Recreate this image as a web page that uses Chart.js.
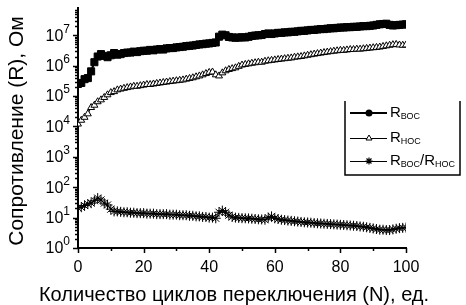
<!DOCTYPE html>
<html>
<head>
<meta charset="utf-8">
<script src="https://cdn.jsdelivr.net/npm/chart.js@4.4.1/dist/chart.umd.min.js"></script>
<style>
  body { margin: 0; background: #fff; }
</style>
</head>
<body>
<canvas id="resChart" width="466" height="305"></canvas>
<script>
// switching cycle number
const cycles = [0, 1, 2, 3, 4, 5, 6, 7, 8, 9, 10, 11, 12, 13, 14, 15, 16, 17, 18, 19,
  20, 21, 22, 23, 24, 25, 26, 27, 28, 29, 30, 31, 32, 33, 34, 35, 36, 37, 38, 39,
  40, 41, 42, 43, 44, 45, 46, 47, 48, 49, 50, 51, 52, 53, 54, 55, 56, 57, 58, 59,
  60, 61, 62, 63, 64, 65, 66, 67, 68, 69, 70, 71, 72, 73, 74, 75, 76, 77, 78, 79,
  80, 81, 82, 83, 84, 85, 86, 87, 88, 89, 90, 91, 92, 93, 94, 95, 96, 97, 98, 99, 100];

// R_ВОС, Ohm
const rHigh = [2.5e5, 2.7e5, 3.6e5, 3.9e5, 6.5e5, 1.3e6, 2.0e6, 2.4e6, 2.1e6, 1.9e6,
  2.2e6, 2.6e6, 2.3e6, 2.4e6, 2.6e6, 2.7e6, 2.7e6, 2.9e6, 2.8e6, 3.0e6,
  3.1e6, 3.1e6, 3.3e6, 3.2e6, 3.4e6, 3.5e6, 3.4e6, 3.7e6, 3.8e6, 3.8e6,
  4.0e6, 4.1e6, 4.2e6, 4.4e6, 4.5e6, 4.6e6, 4.8e6, 5.0e6, 5.1e6, 5.3e6,
  5.4e6, 5.6e6, 5.8e6, 9.0e6, 1.05e7, 1.0e7, 8.8e6, 8.5e6, 8.3e6, 8.4e6,
  8.6e6, 8.5e6, 8.9e6, 9.5e6, 9.8e6, 1.0e7, 1.02e7, 1.1e7, 1.15e7, 1.1e7,
  1.15e7, 1.2e7, 1.2e7, 1.25e7, 1.25e7, 1.3e7, 1.3e7, 1.35e7, 1.4e7, 1.4e7,
  1.45e7, 1.5e7, 1.5e7, 1.55e7, 1.6e7, 1.6e7, 1.65e7, 1.7e7, 1.7e7, 1.75e7,
  1.8e7, 1.8e7, 1.85e7, 1.85e7, 1.9e7, 1.9e7, 1.95e7, 2.0e7, 2.0e7, 2.05e7,
  2.1e7, 2.2e7, 2.3e7, 2.35e7, 2.4e7, 2.2e7, 2.1e7, 2.15e7, 2.2e7, 2.25e7, 2.3e7];

// R_НОС, Ohm
const rLow = [1.2e4, 1.6e4, 2.0e4, 2.6e4, 4.2e4, 5.0e4, 6.5e4, 7.5e4, 9.0e4, 1.1e5,
  1.3e5, 1.4e5, 1.6e5, 1.7e5, 1.8e5, 1.9e5, 2.0e5, 2.1e5, 2.1e5, 2.2e5,
  2.3e5, 2.4e5, 2.4e5, 2.5e5, 2.6e5, 2.7e5, 2.8e5, 2.9e5, 3.0e5, 3.1e5,
  3.2e5, 3.3e5, 3.4e5, 3.6e5, 3.8e5, 4.0e5, 4.3e5, 4.6e5, 5.0e5, 5.5e5,
  6.0e5, 6.2e5, 5.0e5, 4.6e5, 5.8e5, 6.8e5, 7.5e5, 8.0e5, 8.5e5, 9.5e5,
  1.05e6, 1.1e6, 1.15e6, 1.2e6, 1.25e6, 1.3e6, 1.3e6, 1.4e6, 1.45e6, 1.5e6,
  1.55e6, 1.6e6, 1.65e6, 1.7e6, 1.75e6, 1.8e6, 1.9e6, 1.95e6, 2.0e6, 2.1e6,
  2.2e6, 2.3e6, 2.4e6, 2.5e6, 2.6e6, 2.7e6, 2.8e6, 2.9e6, 3.0e6, 3.1e6,
  3.2e6, 3.2e6, 3.3e6, 3.4e6, 3.4e6, 3.5e6, 3.5e6, 3.6e6, 3.7e6, 3.8e6,
  3.9e6, 4.0e6, 4.1e6, 4.3e6, 4.5e6, 4.7e6, 4.9e6, 5.0e6, 4.8e6, 4.7e6, 4.8e6];

// R_ВОС / R_НОС
const rRatio = [21, 22, 25, 28, 30, 36, 44, 38, 30, 26,
  19, 16, 16, 15.5, 15, 15, 14.5, 14.5, 14, 14,
  14, 13.5, 13.5, 13.5, 13, 13, 13, 13, 12.5, 12.5,
  12.5, 12, 12, 12, 11.5, 11.5, 11, 11, 10.5, 10.5,
  10, 10, 9.5, 15, 17, 15, 12, 10.5, 10, 9.8,
  9.6, 9.5, 9.4, 9.2, 9, 8.8, 8.7, 8.5, 10, 11,
  9.5, 9, 8.5, 8.3, 8.0, 7.8, 7.6, 7.4, 7.2, 7.0,
  6.9, 6.8, 6.6, 6.5, 6.4, 6.3, 6.2, 6.1, 6.0, 5.9,
  5.8, 5.7, 5.6, 5.5, 5.4, 5.3, 5.1, 5.0, 4.8, 4.6,
  4.4, 4.2, 4.0, 4.0, 3.9, 3.9, 4.1, 4.3, 4.5, 4.6, 4.7];

const xTicks = [0, 20, 40, 60, 80, 100];
const yDecades = [0, 1, 2, 3, 4, 5, 6, 7];

const FONT = '"Liberation Sans", Arial, sans-serif';

function pts(ys) {
  return cycles.map((c, i) => ({ x: c, y: ys[i] }));
}

function drawSubText(ctx, x, y, main, sub) {
  ctx.font = '15px ' + FONT;
  ctx.fillText(main, x, y);
  x += ctx.measureText(main).width;
  ctx.font = '9px ' + FONT;
  ctx.fillText(sub, x, y + 4);
  return x + ctx.measureText(sub).width;
}

function drawStar(ctx, x, y, r) {
  ctx.beginPath();
  for (let k = 0; k < 4; k++) {
    const a = k * Math.PI / 4;
    ctx.moveTo(x - r * Math.cos(a), y - r * Math.sin(a));
    ctx.lineTo(x + r * Math.cos(a), y + r * Math.sin(a));
  }
  ctx.stroke();
}

const decor = {
  id: 'decor',
  afterDraw(chart) {
    const ctx = chart.ctx;
    const xs = chart.scales.x, ys = chart.scales.y;
    const area = chart.chartArea;
    ctx.save();
    ctx.fillStyle = '#000';
    ctx.strokeStyle = '#000';

    // x ticks
    ctx.lineWidth = 1.5;
    for (let v = 0; v <= 100; v += 10) {
      const px = Math.round(xs.getPixelForValue(v)) + 0.5;
      const len = v % 20 === 0 ? 5 : 3;
      ctx.beginPath();
      ctx.moveTo(px, area.bottom);
      ctx.lineTo(px, area.bottom + len);
      ctx.stroke();
    }
    ctx.font = '16px ' + FONT;
    ctx.textAlign = 'center';
    ctx.textBaseline = 'middle';
    xTicks.forEach(v => ctx.fillText(String(v), xs.getPixelForValue(v), area.bottom + 20));

    // y ticks (log)
    yDecades.forEach(k => {
      for (let m = 1; m <= 9; m++) {
        const v = m * Math.pow(10, k);
        if (v > ys.max) break;
        const py = Math.round(ys.getPixelForValue(v)) + 0.5;
        const len = m === 1 ? 5 : 3;
        ctx.beginPath();
        ctx.moveTo(area.left, py);
        ctx.lineTo(area.left - len, py);
        ctx.stroke();
      }
    });
    yDecades.forEach(k => {
      const py = ys.getPixelForValue(Math.pow(10, k));
      ctx.font = '12px ' + FONT;
      ctx.textAlign = 'right';
      ctx.textBaseline = 'middle';
      const ew = ctx.measureText(String(k)).width;
      ctx.fillText(String(k), area.left - 8, py - 6);
      ctx.font = '16px ' + FONT;
      ctx.fillText('10', area.left - 8 - ew, py + 1);
    });

    // axis titles
    ctx.font = '20px ' + FONT;
    ctx.textAlign = 'center';
    ctx.textBaseline = 'middle';
    ctx.fillText('Количество циклов переключения (N), ед.', 234, 295);
    ctx.save();
    ctx.translate(17, 131);
    ctx.rotate(-Math.PI / 2);
    ctx.font = '21px ' + FONT;
    ctx.fillText('Сопротивление (R), Ом', 0, 0);
    ctx.restore();

    // legend
    const L = 345, R = 460, T = 101, B = 175;
    ctx.lineWidth = 1.5;
    ctx.beginPath();
    ctx.moveTo(L, T); ctx.lineTo(L, B); ctx.lineTo(R, B); ctx.lineTo(R, T);
    ctx.stroke();
    const rows = [113, 138, 161];
    const x0 = 350, x1 = 387, xm = 369;
    ctx.textAlign = 'left';
    ctx.textBaseline = 'middle';
    // row 1
    ctx.lineWidth = 2;
    ctx.beginPath(); ctx.moveTo(x0, rows[0]); ctx.lineTo(x1, rows[0]); ctx.stroke();
    ctx.beginPath(); ctx.arc(xm, rows[0], 3.5, 0, Math.PI * 2); ctx.fill();
    drawSubText(ctx, 390, rows[0], 'R', 'ВОС');
    // row 2
    ctx.lineWidth = 1;
    ctx.beginPath(); ctx.moveTo(x0, rows[1] + 0.5); ctx.lineTo(x1, rows[1] + 0.5); ctx.stroke();
    ctx.fillStyle = '#fff';
    ctx.beginPath();
    ctx.moveTo(xm, rows[1] - 3); ctx.lineTo(xm + 3, rows[1] + 2); ctx.lineTo(xm - 3, rows[1] + 2); ctx.closePath();
    ctx.fill(); ctx.stroke();
    ctx.fillStyle = '#000';
    drawSubText(ctx, 390, rows[1], 'R', 'НОС');
    // row 3
    ctx.beginPath(); ctx.moveTo(x0, rows[2] + 0.5); ctx.lineTo(x1, rows[2] + 0.5); ctx.stroke();
    ctx.lineWidth = 1.2;
    drawStar(ctx, xm, rows[2], 3.5);
    let nx = drawSubText(ctx, 390, rows[2], 'R', 'ВОС');
    ctx.font = '15px ' + FONT;
    ctx.fillText('/', nx, rows[2]);
    nx += ctx.measureText('/').width;
    drawSubText(ctx, nx, rows[2], 'R', 'НОС');

    ctx.restore();
  }
};

new Chart(document.getElementById('resChart').getContext('2d'), {
  type: 'line',
  data: {
    datasets: [
      {
        label: 'R_ВОС',
        data: pts(rHigh),
        borderColor: '#000',
        backgroundColor: '#000',
        borderWidth: 2,
        pointStyle: 'rect',
        pointRadius: 5,
        pointBorderWidth: 1,
        tension: 0
      },
      {
        label: 'R_НОС',
        data: pts(rLow),
        borderColor: '#000',
        backgroundColor: '#fff',
        borderWidth: 1,
        pointStyle: 'triangle',
        pointRadius: 4,
        pointBorderWidth: 1,
        tension: 0
      },
      {
        label: 'R_ВОС/R_НОС',
        data: pts(rRatio),
        borderColor: '#000',
        backgroundColor: '#000',
        borderWidth: 1,
        pointStyle: 'star',
        pointRadius: 5,
        pointBorderWidth: 1,
        tension: 0
      }
    ]
  },
  options: {
    responsive: false,
    animation: false,
    layout: { padding: { top: 8, right: 60, left: 0, bottom: 0 } },
    plugins: { legend: { display: false }, tooltip: { enabled: false } },
    scales: {
      x: {
        type: 'linear',
        min: 0,
        max: 100,
        ticks: { display: false },
        grid: { display: false },
        border: { display: true, color: '#000', width: 2 },
        afterFit(s) { s.height = 57; }
      },
      y: {
        type: 'logarithmic',
        min: 1,
        max: 7.9e7,
        ticks: { display: false },
        grid: { display: false },
        border: { display: true, color: '#000', width: 2 },
        afterFit(s) { s.width = 78; }
      }
    }
  },
  plugins: [decor]
});
</script>
</body>
</html>
